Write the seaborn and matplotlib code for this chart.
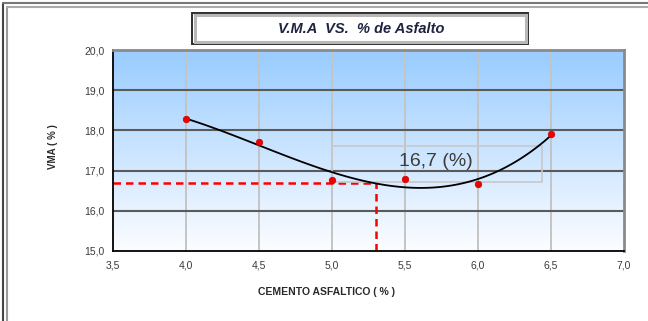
import numpy as np
import pandas as pd
import seaborn as sns
import matplotlib
matplotlib.use("Agg")
import matplotlib.pyplot as plt
from matplotlib.patches import Rectangle
from matplotlib.lines import Line2D
from matplotlib.ticker import FuncFormatter

# Ensayo Marshall: vacíos en el agregado mineral vs. contenido de asfalto
asfalto = [4.0, 4.5, 5.0, 5.5, 6.0, 6.5]
vma = [18.28, 17.71, 16.77, 16.80, 16.67, 17.90]
contenido_optimo = 5.3
vma_optimo = 16.7
etiqueta_vma = "16,7 (%)"
x_ticks = [3.5, 4.0, 4.5, 5.0, 5.5, 6.0, 6.5, 7.0]
y_ticks = [15.0, 16.0, 17.0, 18.0, 19.0, 20.0]

df = pd.DataFrame({"asfalto": asfalto, "vma": vma})

sns.set_theme(style="white")
plt.rcParams["font.family"] = ["Liberation Sans", "DejaVu Sans"]

W, H = 648, 321
fig = plt.figure(figsize=(W / 100, H / 100), dpi=100)
fig.patch.set_facecolor("white")


def fx(px):
    return px / W


def fy(py):
    return 1 - py / H


ax = fig.add_axes([fx(113), fy(251), fx(624) - fx(113), fy(50) - fy(251)])
ax.set_xlim(3.5, 7.0)
ax.set_ylim(15.0, 20.0)

# vertical gradient background of the plot area
top = np.array([153, 204, 255]) / 255
bot = np.array([252, 253, 255]) / 255
t = np.linspace(0, 1, 256)[:, None]
grad = (top * (1 - t) + bot * t)[:, None, :].repeat(2, axis=1)
ax.imshow(grad, extent=[3.5, 7.0, 15.0, 20.0], aspect="auto",
          origin="upper", zorder=0, interpolation="bilinear")

# grid
for xv in x_ticks[1:-1]:
    ax.axvline(xv, color="#c4c4c4", lw=1.4, zorder=1)
for yv in y_ticks[1:-1]:
    ax.axhline(yv, color="#5a5a5a", lw=1.5, zorder=1)

# polynomial trend line and data points
sns.regplot(data=df, x="asfalto", y="vma", order=3, ci=None, ax=ax,
            scatter=False, line_kws=dict(color="black", lw=1.3, zorder=3))
sns.scatterplot(data=df, x="asfalto", y="vma", ax=ax, color="#ee0000",
                s=22, edgecolor="#cc0000", linewidth=0.5, zorder=4)

# design value read-off
ax.plot([3.5, contenido_optimo], [vma_optimo, vma_optimo],
        color="#ff0000", lw=1.8, ls=(0, (3, 2)), zorder=2)
ax.plot([contenido_optimo, contenido_optimo], [15.0, vma_optimo],
        color="#ff0000", lw=1.8, ls=(0, (3, 2)), zorder=2)

ax.add_patch(Rectangle((5.0, 16.72), 1.44, 0.89, fill=False,
                       edgecolor="#c8c8c8", lw=1.2, zorder=2))
ax.text(5.71, 17.23, etiqueta_vma, ha="center", va="center",
        fontsize=14, color="#3c3c3c", zorder=5)

# axes styling
ax.set_xticks(x_ticks)
ax.set_yticks(y_ticks)
fmt = FuncFormatter(lambda v, p: f"{v:.1f}".replace(".", ","))
ax.xaxis.set_major_formatter(fmt)
ax.yaxis.set_major_formatter(fmt)
ax.tick_params(axis="both", labelsize=7.5, colors="#3a3a3a", length=3,
               width=1, direction="out")
ax.tick_params(axis="both", color="black")
ax.tick_params(axis="x", pad=4)
ax.tick_params(axis="y", pad=3)
for side in ["left", "bottom"]:
    ax.spines[side].set_color("black")
    ax.spines[side].set_linewidth(1.3)
for side in ["right", "top"]:
    ax.spines[side].set_color("#8a8a8a")
    ax.spines[side].set_linewidth(2)
    ax.spines[side].set_visible(True)

ax.set_xlabel("")
ax.set_ylabel("")
fig.text(fx(327), fy(292), "CEMENTO ASFALTICO ( % )", ha="center",
         va="center", fontsize=7.5, fontweight="bold", color="#2a2a2a")
fig.text(fx(53), fy(147), "VMA ( % )", ha="center", va="center",
         rotation=90, fontsize=7, fontweight="bold", color="#2a2a2a")

# title box: dark outline with a soft grey bevel inside
fig.patches.append(Rectangle((fx(192), fy(44)), fx(528) - fx(192),
                             fy(13) - fy(44), transform=fig.transFigure,
                             facecolor="white", edgecolor="#2e2e2e",
                             lw=1.4, zorder=1))
fig.patches.append(Rectangle((fx(194.5), fy(41.5)), fx(525.5) - fx(194.5),
                             fy(15.5) - fy(41.5), transform=fig.transFigure,
                             facecolor="none", edgecolor="#b8b8b8",
                             lw=2.2, zorder=2))
fig.text(fx(361), fy(29), "V.M.A  VS.  % de Asfalto", ha="center",
         va="center", fontsize=10.5, fontweight="bold", fontstyle="italic",
         color="#1e2440")

# sheet frame
for xp, c in [(3, "#444444"), (7, "#9a9a9a")]:
    fig.lines.append(Line2D([fx(xp), fx(xp)], [0, fy(xp)],
                            transform=fig.transFigure, color=c, lw=1.5))
for yp, c in [(3, "#777777"), (7, "#aaaaaa")]:
    fig.lines.append(Line2D([fx(yp), 1], [fy(yp), fy(yp)],
                            transform=fig.transFigure, color=c, lw=1.5))

fig.savefig("out.png", dpi=100)
